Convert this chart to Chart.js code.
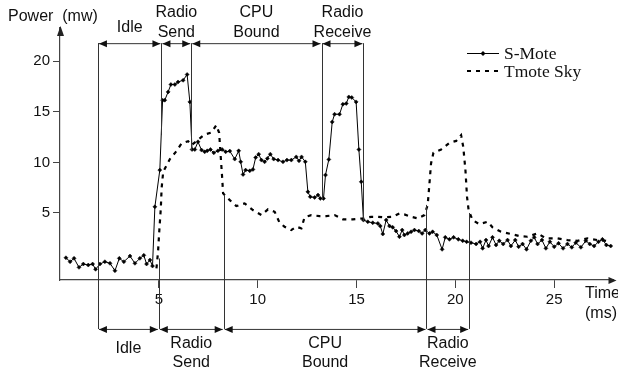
<!DOCTYPE html>
<html>
<head>
<meta charset="utf-8">
<script src="https://cdn.jsdelivr.net/npm/chart.js@4/dist/chart.umd.min.js"></script>
<style>
  html, body { margin: 0; padding: 0; background: #fff; }
  #wrap { width: 618px; height: 377px; }
</style>
</head>
<body>
<div id="wrap"><canvas id="powerChart" width="618" height="377"></canvas></div>
<script>
// S-Mote trace (time in ms, power in mw)
var smoteTime = [0.30,0.51,0.71,0.96,1.18,1.43,1.65,1.80,2.02,2.27,2.53,2.78,3.00,3.23,3.54,3.79,4.04,4.24,4.38,4.55,4.68,
  4.80,5.05,5.19,5.30,5.47,5.61,5.81,5.97,6.23,6.43,6.57,6.68,6.82,6.98,7.16,7.32,7.45,
  7.61,7.78,7.99,8.20,8.38,8.59,8.84,9.04,9.14,9.26,9.39,9.60,9.76,9.90,10.05,10.19,10.35,10.49,10.64,10.81,11.03,11.28,11.48,11.70,11.95,12.09,12.22,12.41,
  12.54,12.66,12.88,13.05,13.17,13.33,13.43,13.60,13.77,13.89,14.14,14.31,14.48,14.61,14.76,14.98,15.12,15.24,15.35,15.57,15.82,16.08,
  16.20,16.33,16.50,16.67,16.83,17.00,17.17,17.31,17.42,17.59,17.76,17.93,18.15,18.32,18.48,18.69,18.85,19.06,19.33,19.49,19.70,19.91,20.15,20.37,20.57,20.79,
  21.05,21.25,21.38,21.55,21.68,21.88,22.06,22.22,22.42,22.64,22.81,23.03,23.20,23.40,23.60,23.82,23.99,24.16,24.38,24.58,24.78,25.00,25.22,25.45,25.67,25.89,
  26.09,26.35,26.60,26.80,27.02,27.24,27.44,27.64,27.86];
var smotePower = [0.57,0.18,0.51,-0.38,-0.05,-0.15,-0.05,-0.57,-0.05,0.18,0.02,-0.71,0.51,0.18,0.74,0.02,0.51,0.81,-0.05,0.35,-0.25,
  5.61,9.24,16.16,16.16,16.98,17.71,17.71,17.96,18.13,18.70,15.99,11.28,11.28,12.04,11.22,11.05,11.15,
  11.28,10.95,11.15,11.28,11.05,11.12,10.33,11.15,10.06,8.81,9.24,9.17,9.31,10.49,10.82,10.23,10.06,10.40,10.82,10.33,10.23,10.06,10.23,10.23,10.55,10.16,10.55,10.06,
  7.09,6.60,6.54,6.77,6.44,6.44,8.75,10.30,14.01,14.77,14.77,15.76,15.83,16.48,16.42,15.99,11.28,8.08,4.30,4.13,4.03,3.97,
  3.71,2.92,4.30,3.71,3.58,3.21,2.65,3.31,2.82,2.98,3.14,3.31,3.21,2.98,3.31,2.98,3.14,2.82,1.40,2.59,2.39,2.59,2.39,2.25,2.15,2.06,
  1.93,2.15,1.50,2.32,1.73,2.59,1.83,2.25,1.93,2.32,1.73,2.32,1.66,1.93,1.40,2.25,2.59,1.93,2.32,1.50,2.15,1.66,2.00,1.50,1.93,1.60,
  2.06,1.60,2.25,1.93,1.73,2.15,2.39,1.83,1.73];

// Tmote Sky trace
var tmoteTime = [4.88,4.96,5.02,5.10,5.14,5.22,5.56,5.84,6.15,6.48,6.65,7.32,7.66,7.91,8.05,8.12,8.20,8.25,8.59,8.92,9.34,9.76,
  10.19,10.52,10.86,11.11,11.36,11.70,11.95,12.21,12.37,12.71,13.13,13.47,13.89,14.31,14.81,15.32,15.74,16.08,16.41,16.83,17.17,17.42,17.76,18.10,18.43,
  18.60,18.69,18.77,18.89,19.28,19.70,20.04,20.29,20.40,20.51,20.59,20.67,20.87,21.21,21.63,21.88,22.31,22.81,23.23,23.65,24.16,24.58,25.17,25.67,26.18,26.68,27.19,27.61,27.83];
var tmotePower = [-0.47,1.17,3.14,5.45,7.43,9.07,10.33,10.99,11.88,12.10,11.71,12.77,12.96,13.69,12.93,10.89,8.58,6.94,6.27,5.68,5.95,5.29,
  4.79,5.36,5.12,4.03,3.64,3.31,3.64,3.48,4.57,4.79,4.69,4.69,4.79,4.37,4.37,4.47,4.62,4.62,4.57,4.62,4.96,4.86,4.62,4.47,4.79,
  5.78,7.92,9.90,10.95,11.28,11.94,12.13,12.70,11.54,9.24,6.60,5.29,4.30,3.90,4.13,3.58,3.14,2.92,2.72,2.65,2.98,2.49,2.49,2.32,2.25,2.49,2.32,2.25,2.12];

var xTicks = [5, 10, 15, 20, 25];
var yTicks = [5, 10, 15, 20];

// phase annotations (ms); the line ends are in mw
var phaseNames = [['Idle'], ['Radio', 'Send'], ['CPU', 'Bound'], ['Radio', 'Receive']];
var topBounds = [1.92, 5.13, 6.64, 13.23, 15.35];
var topLineEnds = [-6.47, 12.7, 11.2, 6.3, 4.1];
var bottomBounds = [1.92, 5.0, 8.28, 18.54, 20.7];
var bottomLineTops = [21.8, 0.5, 6.8, 5.8, 5.0];
var topArrowLevel = 21.8;
var bottomArrowLevel = -6.47;

function pairs(xs, ys) {
  return xs.map(function (t, i) { return { x: t, y: ys[i] }; });
}

var SANS = '"Liberation Sans", Arial, sans-serif';
var SERIF = '"Liberation Serif", "Times New Roman", serif';
Chart.defaults.font.family = SANS;
Chart.defaults.color = '#111';

function arrowHead(ctx, x, y, dir) {
  ctx.beginPath();
  if (dir === 'left') { ctx.moveTo(x, y); ctx.lineTo(x + 8, y - 3.5); ctx.lineTo(x + 8, y + 3.5); }
  if (dir === 'right') { ctx.moveTo(x, y); ctx.lineTo(x - 8, y - 3.5); ctx.lineTo(x - 8, y + 3.5); }
  if (dir === 'up') { ctx.moveTo(x, y); ctx.lineTo(x - 3.5, y + 10); ctx.lineTo(x + 3.5, y + 10); }
  ctx.closePath();
  ctx.fill();
}

function phaseRow(ctx, xs, ys, bounds, arrowVal, lineVals, below) {
  var ay = ys.getPixelForValue(arrowVal);
  ctx.strokeStyle = '#333';
  ctx.fillStyle = '#111';
  ctx.lineWidth = 1;
  bounds.forEach(function (b, i) {
    var px = Math.round(xs.getPixelForValue(b)) + 0.5;
    ctx.beginPath();
    ctx.moveTo(px, ay);
    ctx.lineTo(px, ys.getPixelForValue(lineVals[i]));
    ctx.stroke();
  });
  for (var i = 0; i < bounds.length - 1; i++) {
    var x1 = xs.getPixelForValue(bounds[i]) + 1;
    var x2 = xs.getPixelForValue(bounds[i + 1]) - 1;
    ctx.beginPath();
    ctx.moveTo(x1, ay + 0.5);
    ctx.lineTo(x2, ay + 0.5);
    ctx.stroke();
    arrowHead(ctx, x1, ay + 0.5, 'left');
    arrowHead(ctx, x2, ay + 0.5, 'right');
    var cx = (x1 + x2) / 2;
    var lines = phaseNames[i];
    ctx.font = '16px ' + SANS;
    ctx.textAlign = 'center';
    ctx.textBaseline = 'middle';
    if (lines.length === 1) {
      ctx.fillText(lines[0], cx, below ? ay + 20 : ay - 16);
    } else {
      ctx.fillText(lines[0], cx, below ? ay + 15 : ay - 30.5);
      ctx.fillText(lines[1], cx, below ? ay + 34 : ay - 10.5);
    }
  }
}

var annotations = {
  id: 'annotations',
  afterDraw: function (chart) {
    var ctx = chart.ctx, a = chart.chartArea;
    var xs = chart.scales.x, ys = chart.scales.y;
    ctx.save();

    // axis arrowheads
    ctx.fillStyle = '#222';
    arrowHead(ctx, a.left + 0.5, a.top - 2, 'up');
    arrowHead(ctx, a.right + 3, a.bottom + 0.5, 'right');

    phaseRow(ctx, xs, ys, topBounds, topArrowLevel, topLineEnds, false);
    phaseRow(ctx, xs, ys, bottomBounds, bottomArrowLevel, bottomLineTops, true);

    // axis titles
    ctx.fillStyle = '#111';
    ctx.font = '16px ' + SANS;
    ctx.textAlign = 'left';
    ctx.textBaseline = 'middle';
    ctx.fillText('Power  (mw)', 8, 17);
    ctx.fillText('Time', 585, 294);
    ctx.fillText('(ms)', 585, 314);

    // legend
    var ds = chart.data.datasets;
    ctx.strokeStyle = '#000';
    ctx.lineWidth = 1;
    ctx.beginPath(); ctx.moveTo(467, 53.5); ctx.lineTo(499, 53.5); ctx.stroke();
    ctx.fillStyle = '#000';
    ctx.beginPath(); ctx.moveTo(483, 51); ctx.lineTo(485.5, 53.5); ctx.lineTo(483, 56); ctx.lineTo(480.5, 53.5); ctx.closePath(); ctx.fill();
    ctx.lineWidth = ds[1].borderWidth;
    ctx.setLineDash(ds[1].borderDash);
    ctx.beginPath(); ctx.moveTo(467, 71); ctx.lineTo(500, 71); ctx.stroke();
    ctx.setLineDash([]);
    ctx.font = '17.5px ' + SERIF;
    ctx.fillStyle = '#111';
    ctx.fillText(ds[0].label, 504, 54);
    ctx.fillText(ds[1].label, 504, 72);

    ctx.restore();
  }
};

new Chart(document.getElementById('powerChart'), {
  type: 'line',
  data: {
    datasets: [{
      label: 'S-Mote',
      data: pairs(smoteTime, smotePower),
      borderColor: '#000',
      backgroundColor: '#000',
      borderWidth: 1,
      pointStyle: 'rectRot',
      pointRadius: 2,
      pointBorderWidth: 0.5,
      tension: 0
    }, {
      label: 'Tmote Sky',
      data: pairs(tmoteTime, tmotePower),
      borderColor: '#000',
      borderWidth: 2.2,
      borderDash: [4, 5],
      pointRadius: 0,
      tension: 0
    }]
  },
  options: {
    responsive: false,
    animation: false,
    devicePixelRatio: 1,
    layout: { padding: { top: 28, right: 3.6, left: 0, bottom: 0 } },
    plugins: { legend: { display: false }, tooltip: { enabled: false } },
    scales: {
      x: {
        type: 'linear', min: 0, max: 28,
        afterBuildTicks: function (s) { s.ticks = xTicks.map(function (v) { return { value: v }; }); },
        afterFit: function (s) { s.height = 97; },
        grid: { drawOnChartArea: false, tickLength: 8, color: '#444' },
        border: { color: '#444', width: 1.2 },
        ticks: { autoSkip: false, maxRotation: 0, padding: 3, font: { size: 15 }, color: '#111' }
      },
      y: {
        min: -1.63, max: 23.3,
        afterBuildTicks: function (s) { s.ticks = yTicks.map(function (v) { return { value: v }; }); },
        afterFit: function (s) { s.width = 60; },
        grid: { drawOnChartArea: false, tickLength: 7, color: '#444' },
        border: { color: '#444', width: 1.2 },
        ticks: { padding: 3, font: { size: 15 }, color: '#111' }
      }
    }
  },
  plugins: [annotations]
});
</script>
</body>
</html>
